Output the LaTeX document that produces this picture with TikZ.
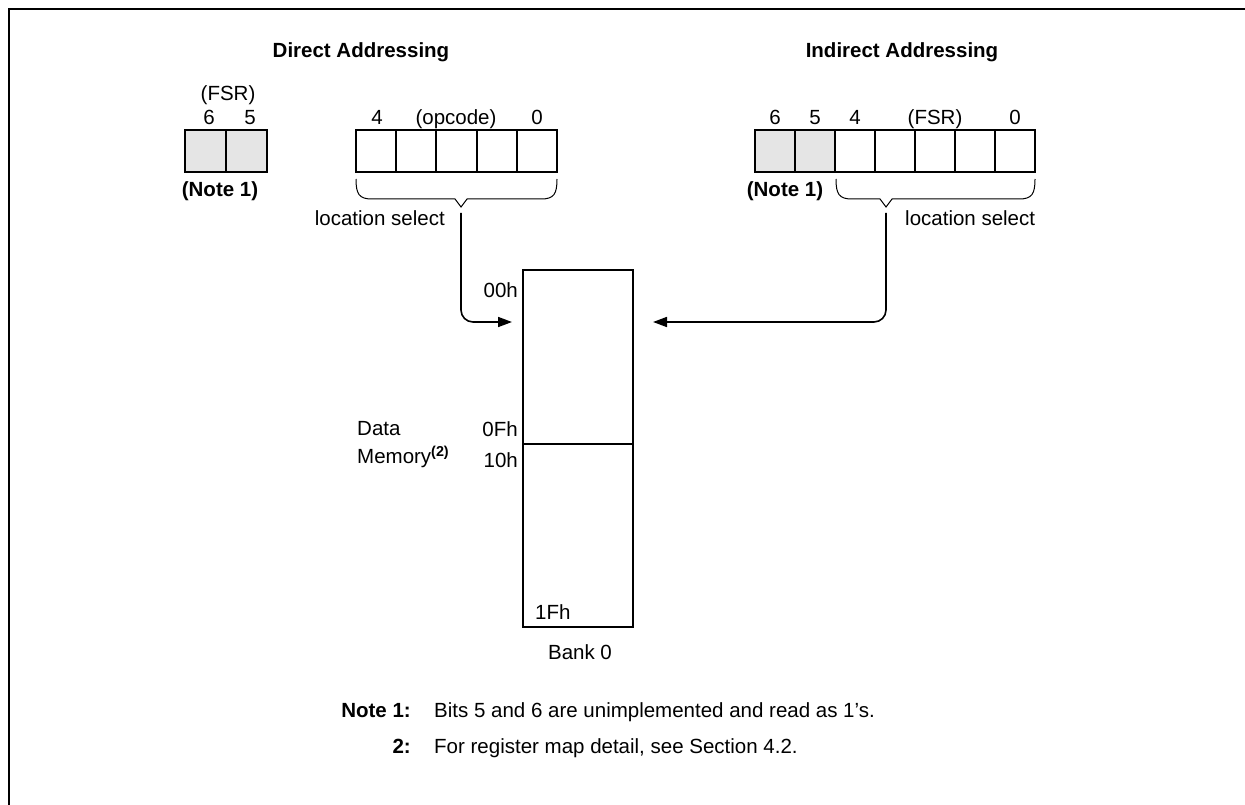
\documentclass[tikz,border=0pt]{standalone}
\usepackage{fontspec}
\setmainfont{Liberation Sans}
\usetikzlibrary{arrows.meta}

\definecolor{unimpl}{gray}{0.9}
\newcommand{\lblsize}{\fontsize{20.5}{25}\selectfont}

\tikzset{
  bitcell/.style = {draw, line width = 1.6pt, minimum width = 40.5pt,
    minimum height = 42pt},
  brace/.style = {line width = 1pt},
  sel/.style = {line width = 1.6pt, rounded corners = 12pt,
    -{Triangle[length = 14pt, width = 10pt]}},
}

\begin{document}
\begin{tikzpicture}[x = 1pt, y = -1pt, font = \lblsize,
    every node/.style = {inner sep = 0pt, text depth = 0pt}]
      \useasboundingbox (0, 0) rectangle (1245, 805);
      % frame
      \draw[line width = 2pt] (8.5, 805) -- (8.5, 9.5) -- (1245, 9.5);
      % titles
      \node (dtitle) at (361, 50) {\bfseries Direct Addressing};
      \node (ititle) at (902, 50) {\bfseries Indirect Addressing};
      % direct: FSR bits 6 and 5
      \node[bitcell, fill = unimpl] (dfsr6) at (205.5, 151) {};
      \node[bitcell, fill = unimpl] (dfsr5) at (246.5, 151) {};
      \node (dfsrname) at (228, 93) {(FSR)};
      \node (dfsr6lbl) at (209, 117) {6};
      \node (dfsr5lbl) at (250, 117) {5};
      \node (dnote) at (220, 189) {\bfseries (Note 1)};
      % direct: opcode bits 4..0
      \foreach \b in {4, ..., 0}
        \node[bitcell] (op\b) at ({376.1 + 40.2*(4 - \b)}, 151) {};
      \node (op4lbl) at (377, 117) {4};
      \node (opname) at (456, 117) {(opcode)};
      \node (op0lbl) at (537, 117) {0};
      % indirect: FSR bits 6..0
      \foreach \b in {6, 5}
        \node[bitcell, fill = unimpl] (fsr\b) at ({775 + 40*(6 - \b)}, 151) {};
      \foreach \b in {4, ..., 0}
        \node[bitcell] (fsr\b) at ({775 + 40*(6 - \b)}, 151) {};
      \node (fsr6lbl) at (775, 117) {6};
      \node (fsr5lbl) at (815, 117) {5};
      \node (fsr4lbl) at (855, 117) {4};
      \node (fsrname) at (935, 117) {(FSR)};
      \node (fsr0lbl) at (1015, 117) {0};
      \node (inote) at (785, 189) {\bfseries (Note 1)};
      % braces
      \coordinate (dtip) at (461, 207);
      \coordinate (itip) at (886, 207);
      \draw[brace] (356, 179) .. controls (356, 194) and (359, 199) .. (372, 199)
        -- (455, 199) -- (dtip) -- (467, 199) -- (541, 199)
        .. controls (554, 199) and (557, 194) .. (557, 179);
      \draw[brace] (836, 179) .. controls (836, 194) and (839, 199) .. (852, 199)
        -- (880, 199) -- (itip) -- (892, 199) -- (1019, 199)
        .. controls (1032, 199) and (1035, 194) .. (1035, 179);
      \node[anchor = east] (dsellbl) at (445, 218) {location select};
      \node[anchor = west] (isellbl) at (905, 218) {location select};
      % data memory
      \node[draw, line width = 1.6pt, minimum width = 110pt,
        minimum height = 357pt] (mem) at (578, 448.5) {};
      \coordinate (split) at (0, 444);
      \draw[line width = 1.6pt] (mem.west |- split) -- (mem.east |- split);
      \node[anchor = east] (a00) at (518, 290) {00h};
      \node[anchor = east] (a0F) at (518, 429) {0Fh};
      \node[anchor = east] (a10) at (518, 460) {10h};
      \node[anchor = west] (a1F) at (535, 612) {1Fh};
      \node[anchor = west] (dmem1) at (357, 428) {Data};
      \node[anchor = west] (dmem2) at (357, 455) {Memory\textsuperscript{\bfseries (2)}};
      \node (bank) at (580, 652) {Bank 0};
      % location select connectors
      \coordinate (dsel) at (461, 213);
      \coordinate (isel) at (886, 213);
      \coordinate (dend) at (512, 322);
      \coordinate (iend) at (653, 322);
      \draw[sel] (dsel) |- (dend);
      \draw[sel] (isel) |- (iend);
      % notes
      \node[anchor = east] (n1) at (411, 710) {\bfseries Note 1:};
      \node[anchor = west] (n1txt) at (434, 710) {Bits 5 and 6 are unimplemented and read as 1’s.};
      \node[anchor = east] (n2) at (411, 746) {\bfseries 2:};
      \node[anchor = west] (n2txt) at (434, 746) {For register map detail, see Section 4.2.};
    \end{tikzpicture}
\end{document}
